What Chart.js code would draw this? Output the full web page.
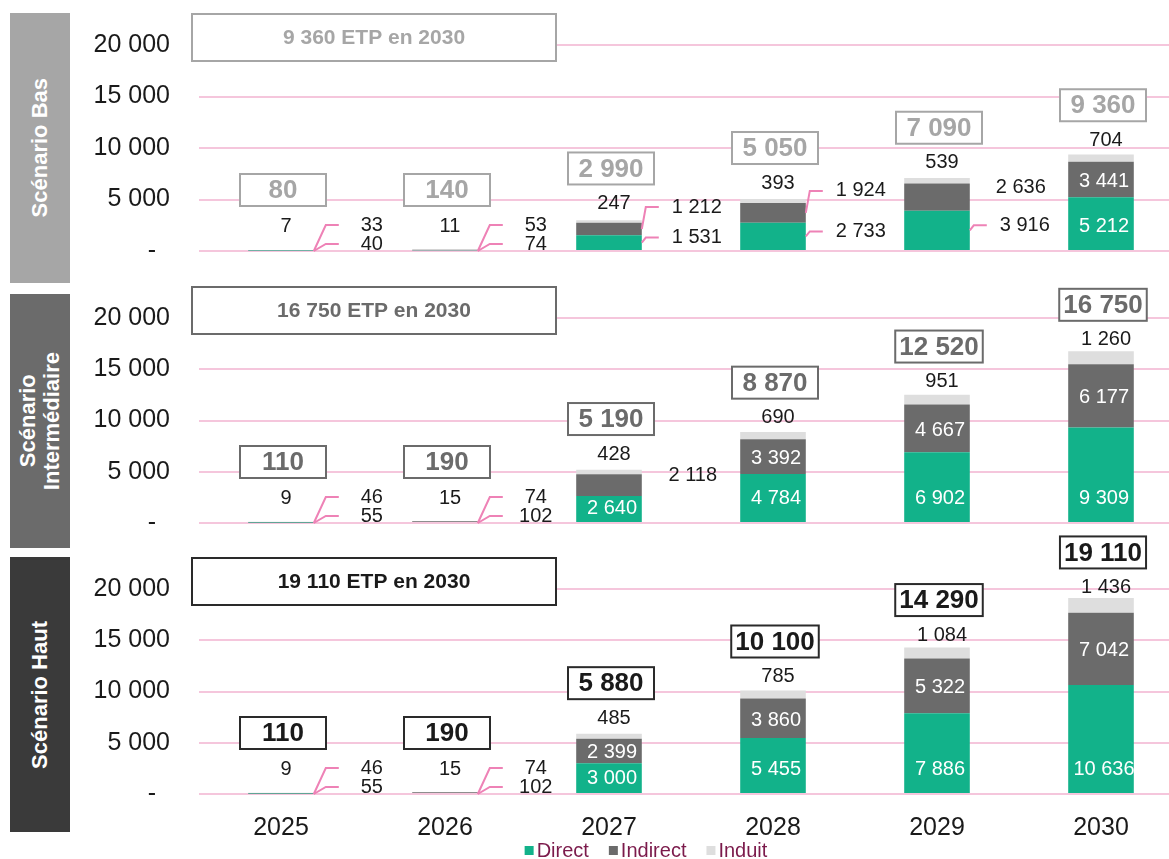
<!DOCTYPE html>
<html lang="fr">
  <head>
    <meta charset="UTF-8" />
    <title>Emplois ETP par scénario</title>
    <script src="https://cdn.jsdelivr.net/npm/chart.js@4.4.1/dist/chart.umd.min.js"></script>
    <style>
      html, body {
        margin: 0;
        padding: 0;
        background: #fff;
        width: 1169px;
        height: 859px;
        overflow: hidden;
        font-family: "Liberation Sans", Arial, sans-serif;
      }
      .side {
        position: absolute;
        left: 10px;
        width: 60px;
        display: flex;
        align-items: center;
        justify-content: center;
        color: #fff;
        font-weight: bold;
        font-size: 22px;
      }
      .side span {
        writing-mode: vertical-rl;
        transform: rotate(180deg);
        text-align: center;
        line-height: 1.1;
      }
      .panel {
        position: absolute;
        left: 0;
        width: 1183px;
      }
    </style>
  </head>
  <body>
    <div class="side" style="top:13px;height:270px;background:#a6a6a6"><span>Scénario Bas</span></div>
    <div class="side" style="top:294px;height:254px;background:#6b6b6b"><span>Scénario<br />Intermédiaire</span></div>
    <div class="side" style="top:557px;height:275px;background:#3a3a3a"><span>Scénario Haut</span></div>

    <div class="panel" style="top:0;height:295px"><canvas id="chartBas"></canvas></div>
    <div class="panel" style="top:250px;height:317px"><canvas id="chartInter"></canvas></div>
    <div class="panel" style="top:500px;height:370px"><canvas id="chartHaut"></canvas></div>

    <script>
      // data
      const years = ["2025", "2026", "2027", "2028", "2029", "2030"];
      const yTicks = [0, 5000, 10000, 15000, 20000];

      const basDirect = [40, 74, 1531, 2733, 3916, 5212];
      const basIndirect = [33, 53, 1212, 1924, 2636, 3441];
      const basInduit = [7, 11, 247, 393, 539, 704];
      const basTotal = [80, 140, 2990, 5050, 7090, 9360];

      const interDirect = [55, 102, 2640, 4784, 6902, 9309];
      const interIndirect = [46, 74, 2118, 3392, 4667, 6177];
      const interInduit = [9, 15, 428, 690, 951, 1260];
      const interTotal = [110, 190, 5190, 8870, 12520, 16750];

      const hautDirect = [55, 102, 3000, 5455, 7886, 10636];
      const hautIndirect = [46, 74, 2399, 3860, 5322, 7042];
      const hautInduit = [9, 15, 485, 785, 1084, 1436];
      const hautTotal = [110, 190, 5880, 10100, 14290, 19110];

      // where each segment label goes: inside, outside with leader line, outside plain
      const basModes = {
        direct: ["lead", "lead", "lead", "lead", "lead", "in"],
        indirect: ["lead", "lead", "lead", "lead", "out", "in"],
      };
      const interModes = {
        direct: ["lead", "lead", "in", "in", "in", "in"],
        indirect: ["lead", "lead", "out", "in", "in", "in"],
      };
      const hautModes = {
        direct: ["lead", "lead", "in", "in", "in", "in"],
        indirect: ["lead", "lead", "in", "in", "in", "in"],
      };

      const FONT = '"Liberation Sans", Arial, sans-serif';
      const TEXT = "#1a1a1a";
      const fmt = (v) => String(v).replace(/\B(?=(\d{3})+(?!\d))/g, " ");

      function segLabel(ctx, mode, kind, el, value, right, tiny, zero) {
        const mid = (el.y + el.base) / 2;
        const txt = fmt(value);
        ctx.font = "20px " + FONT;
        ctx.textAlign = "center";
        ctx.textBaseline = "middle";
        if (mode === "in") {
          ctx.fillStyle = "#fff";
          const ty = kind === "direct" ? Math.max(mid, el.base - 24) : mid + 2;
          ctx.fillText(txt, el.x + 3, ty);
        } else if (mode === "out") {
          ctx.fillStyle = TEXT;
          ctx.fillText(txt, right + 51, mid - 10);
        } else {
          const start = tiny ? zero : mid;
          let ly;
          if (kind === "direct") ly = tiny ? zero - 7 : mid - 5;
          else ly = tiny ? zero - 26 : mid - 22;
          const bend = right + (tiny ? 12 : 4);
          ctx.strokeStyle = "#ee82b6";
          ctx.lineWidth = 2;
          ctx.beginPath();
          ctx.moveTo(right, start);
          ctx.lineTo(bend, ly);
          ctx.lineTo(bend + 13, ly);
          ctx.stroke();
          ctx.fillStyle = TEXT;
          ctx.fillText(txt, right + (tiny ? 58 : 55), ly);
        }
      }

      function etpLabels(cfg) {
        return {
          id: "etpLabels",
          afterDatasetsDraw(chart) {
            const ctx = chart.ctx;
            const area = chart.chartArea;
            const ys = chart.scales.y;
            const zero = ys.getPixelForValue(0);
            const g20 = ys.getPixelForValue(20000);
            ctx.save();

            // headline box over the top gridline
            const hx = area.left - 7, hy = g20 - 31, hw = 364, hh = 47;
            ctx.fillStyle = "#fff";
            ctx.fillRect(hx, hy, hw, hh);
            ctx.lineWidth = 2;
            ctx.strokeStyle = cfg.boxColor;
            ctx.strokeRect(hx, hy, hw, hh);
            ctx.fillStyle = cfg.textColor;
            ctx.font = "bold 21px " + FONT;
            ctx.textAlign = "center";
            ctx.textBaseline = "middle";
            ctx.fillText(cfg.headline, hx + hw / 2, g20 - 7);

            const mD = chart.getDatasetMeta(0).data;
            const mI = chart.getDatasetMeta(1).data;
            const mN = chart.getDatasetMeta(2).data;
            const vD = chart.data.datasets[0].data;
            const vI = chart.data.datasets[1].data;
            const vN = chart.data.datasets[2].data;

            mD.forEach((d, i) => {
              const ind = mI[i], n = mN[i];
              const right = d.x + d.width / 2;
              const tiny = zero - n.y < 6;

              segLabel(ctx, cfg.modes.direct[i], "direct", d, vD[i], right, tiny, zero);
              segLabel(ctx, cfg.modes.indirect[i], "indirect", ind, vI[i], right, tiny, zero);

              // induit value above the bar
              const nMid = (n.y + n.base) / 2;
              const ly = tiny ? zero - 25 : nMid - 18;
              ctx.font = "20px " + FONT;
              ctx.fillStyle = TEXT;
              ctx.fillText(fmt(vN[i]), d.x + 5, ly);

              // total in a box
              const cy = tiny ? zero - 61 : ly - 35;
              ctx.font = "bold 26px " + FONT;
              const t = fmt(cfg.totals[i]);
              const bw = Math.max(86, ctx.measureText(t).width + 8), bh = 32;
              const bx = d.x + 2;
              ctx.fillStyle = "#fff";
              ctx.fillRect(bx - bw / 2, cy - bh / 2, bw, bh);
              ctx.strokeStyle = cfg.boxColor;
              ctx.lineWidth = 2;
              ctx.strokeRect(bx - bw / 2, cy - bh / 2, bw, bh);
              ctx.fillStyle = cfg.textColor;
              ctx.fillText(t, bx, cy + 1);
            });

            // legend under the bottom panel
            if (cfg.legend) {
              ctx.font = "20px " + FONT;
              ctx.textAlign = "left";
              const items = chart.data.datasets.map((ds) => ({
                text: ds.label,
                color: ds.backgroundColor,
                w: ctx.measureText(ds.label).width,
              }));
              const box = 9, gap = 3, space = 20;
              const total = items.reduce((s, it) => s + box + gap + it.w, 0) + space * (items.length - 1);
              let x = area.left + 447 - total / 2;
              const ly = area.bottom + 57;
              items.forEach((it) => {
                ctx.fillStyle = it.color;
                ctx.fillRect(x, ly - 5, box, box);
                ctx.fillStyle = "#7b1a4b";
                ctx.fillText(it.text, x + box + gap, ly);
                x += box + gap + it.w + space;
              });
            }
            ctx.restore();
          },
        };
      }

      function makeChart(id, direct, indirect, induit, cfg) {
        const bar = { borderWidth: 0, categoryPercentage: 0.4, barPercentage: 1 };
        return new Chart(document.getElementById(id), {
          type: "bar",
          data: {
            labels: years,
            datasets: [
              { label: "Direct", data: direct, backgroundColor: "#12b28a", ...bar },
              { label: "Indirect", data: indirect, backgroundColor: "#6b6b6b", ...bar },
              { label: "Induit", data: induit, backgroundColor: "#dedede", ...bar },
            ],
          },
          options: {
            responsive: true,
            maintainAspectRatio: false,
            animation: false,
            layout: { padding: { left: 0, right: 0, top: cfg.padTop, bottom: 0 } },
            plugins: {
              legend: { display: false },
              tooltip: { enabled: false },
            },
            scales: {
              x: {
                stacked: true,
                display: cfg.xAxis,
                grid: { display: false },
                border: { display: false },
                ticks: { color: TEXT, padding: 11, font: { size: 25, family: FONT } },
                afterFit: (scale) => {
                  if (cfg.xAxis) scale.height = 76;
                },
              },
              y: {
                stacked: true,
                min: 0,
                max: 20000,
                afterBuildTicks: (scale) => {
                  scale.ticks = yTicks.map((v) => ({ value: v }));
                },
                afterFit: (scale) => {
                  scale.width = 199;
                },
                grid: { color: "#f5c6dc", lineWidth: 2, drawTicks: false },
                border: { display: false },
                ticks: {
                  color: TEXT,
                  padding: 29,
                  font: { size: 25, family: FONT },
                  callback: (v) => (v === 0 ? "-  " : fmt(v)),
                },
              },
            },
          },
          plugins: [etpLabels(cfg)],
        });
      }

      makeChart("chartBas", basDirect, basIndirect, basInduit, {
        headline: "9 360 ETP en 2030",
        totals: basTotal,
        modes: basModes,
        boxColor: "#a6a6a6",
        textColor: "#a6a6a6",
        padTop: 45,
        legend: false,
        xAxis: false,
      });

      makeChart("chartInter", interDirect, interIndirect, interInduit, {
        headline: "16 750 ETP en 2030",
        totals: interTotal,
        modes: interModes,
        boxColor: "#6b6b6b",
        textColor: "#6b6b6b",
        padTop: 68,
        legend: false,
        xAxis: false,
      });

      makeChart("chartHaut", hautDirect, hautIndirect, hautInduit, {
        headline: "19 110 ETP en 2030",
        totals: hautTotal,
        modes: hautModes,
        boxColor: "#2a2a2a",
        textColor: "#1a1a1a",
        padTop: 89,
        legend: true,
        xAxis: true,
      });
    </script>
  </body>
</html>
